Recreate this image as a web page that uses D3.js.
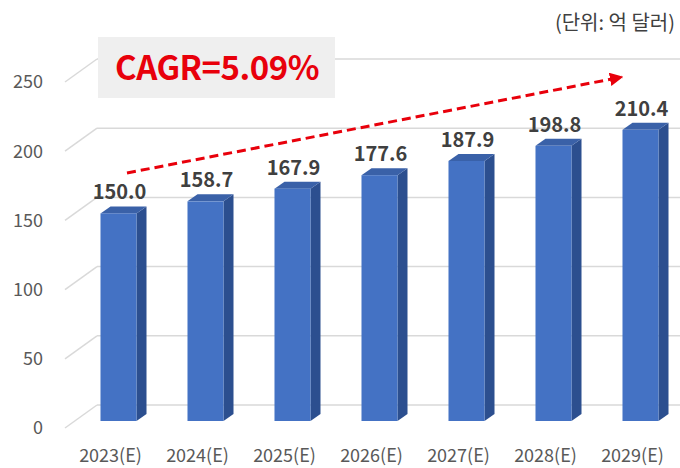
<!DOCTYPE html>
<html>
<head>
<meta charset="utf-8">
<script src="https://cdn.jsdelivr.net/npm/d3@7/dist/d3.min.js"></script>
<style>
  html, body { margin: 0; padding: 0; background: #fff; }
  #graph { width: 680px; height: 468px; }
  text { font-family: "Noto Sans CJK KR", "Noto Sans", sans-serif; }
</style>
</head>
<body>
<div id="graph"></div>
<script>
// chart data
const years = ["2023(E)", "2024(E)", "2025(E)", "2026(E)", "2027(E)", "2028(E)", "2029(E)"];
const values = [150.0, 158.7, 167.9, 177.6, 187.9, 198.8, 210.4];
const yTicks = [0, 50, 100, 150, 200, 250];
const cagrLabel = "CAGR=5.09%";
const unitLabel = "(단위: 억 달러)";

const W = 680, H = 468;
const depth = { dx: 32, dy: -23 };   // floor depth (front -> back wall)
const barDepth = { dx: 10, dy: -7 }; // bar side/top thickness

const svg = d3.select("#graph").append("svg")
    .attr("width", W)
    .attr("height", H);

// scales: front plane of the bars
const x = d3.scaleBand()
    .domain(years)
    .range([75, 684])
    .paddingInner(0.586)
    .paddingOuter(0.293);

const yBar = d3.scaleLinear().domain([0, 250]).range([421, 75]);
const yBack = d3.scaleLinear().domain([0, 250]).range([405, 59]);

// gridlines: diagonal on the side wall + horizontal on the back wall
const grid = svg.append("g").attr("class", "grid");
yTicks.forEach(function(t) {
    const yb = yBack(t);
    grid.append("line")
        .attr("x1", 65).attr("y1", yb - depth.dy)
        .attr("x2", 65 + depth.dx).attr("y2", yb)
        .attr("stroke", "#d9d9d9").attr("stroke-width", 1.5);
    grid.append("line")
        .attr("x1", 65 + depth.dx).attr("y1", yb)
        .attr("x2", W).attr("y2", yb)
        .attr("stroke", "#d9d9d9").attr("stroke-width", 1.5);
});

// y axis labels (front edge)
svg.append("g").selectAll("text")
    .data(yTicks)
    .enter().append("text")
    .attr("x", 43)
    .attr("y", function(d) { return yBack(d) - depth.dy; })
    .attr("dy", "0.35em")
    .attr("text-anchor", "end")
    .attr("font-size", 18)
    .attr("fill", "#595959")
    .text(function(d) { return d; });

// CAGR box
svg.append("rect")
    .attr("x", 98).attr("y", 37)
    .attr("width", 237).attr("height", 61)
    .attr("fill", "#efefef");
svg.append("text")
    .attr("x", 217).attr("y", 80)
    .attr("text-anchor", "middle")
    .attr("font-size", 33)
    .attr("font-weight", "bold")
    .attr("fill", "#e8000b")
    .attr("letter-spacing", -0.5)
    .text(cagrLabel);

// bars
const bars = svg.append("g").selectAll("g")
    .data(values)
    .enter().append("g");

bars.append("path") // side face
    .attr("d", function(d, i) {
        const x1 = x(years[i]) + x.bandwidth(), y0 = yBar(0), y1 = yBar(d);
        return "M" + x1 + "," + y0 + "L" + (x1 + barDepth.dx) + "," + (y0 + barDepth.dy) +
            "L" + (x1 + barDepth.dx) + "," + (y1 + barDepth.dy) + "L" + x1 + "," + y1 + "Z";
    })
    .attr("fill", "#2c4f8f");

bars.append("path") // top face
    .attr("d", function(d, i) {
        const x0 = x(years[i]), x1 = x0 + x.bandwidth(), y1 = yBar(d);
        return "M" + x0 + "," + y1 + "L" + (x0 + barDepth.dx) + "," + (y1 + barDepth.dy) +
            "L" + (x1 + barDepth.dx) + "," + (y1 + barDepth.dy) + "L" + x1 + "," + y1 + "Z";
    })
    .attr("fill", "#3a61a8");

bars.append("rect") // front face
    .attr("x", function(d, i) { return x(years[i]); })
    .attr("y", function(d) { return yBar(d); })
    .attr("width", x.bandwidth())
    .attr("height", function(d) { return yBar(0) - yBar(d); })
    .attr("fill", "#4472c4");

// value labels
bars.append("text")
    .attr("x", function(d, i) { return x(years[i]) + x.bandwidth() / 2 + 1; })
    .attr("y", function(d) { return yBar(d) - 14; })
    .attr("text-anchor", "middle")
    .attr("font-size", 20)
    .attr("font-weight", "bold")
    .attr("fill", "#404040")
    .text(function(d) { return d.toFixed(1); });

// x axis labels
svg.append("g").selectAll("text")
    .data(years)
    .enter().append("text")
    .attr("x", function(d) { return x(d) + x.bandwidth() / 2 - 8; })
    .attr("y", 462)
    .attr("text-anchor", "middle")
    .attr("font-size", 18)
    .attr("fill", "#595959")
    .text(function(d) { return d; });

// dashed trend arrow
const defs = svg.append("defs");
defs.append("marker")
    .attr("id", "arrow")
    .attr("viewBox", "0 0 10 10")
    .attr("refX", 9).attr("refY", 5)
    .attr("markerWidth", 4.5).attr("markerHeight", 4.5)
    .attr("orient", "auto")
    .append("path")
    .attr("d", "M0,0L10,5L0,10Z")
    .attr("fill", "#e8000b");

svg.append("line")
    .attr("x1", 127).attr("y1", 173)
    .attr("x2", 622).attr("y2", 77)
    .attr("stroke", "#e8000b")
    .attr("stroke-width", 3)
    .attr("stroke-dasharray", "9,5")
    .attr("marker-end", "url(#arrow)");

// unit label
svg.append("text")
    .attr("x", 675).attr("y", 30)
    .attr("text-anchor", "end")
    .attr("font-size", 20)
    .attr("fill", "#404040")
    .text(unitLabel);
</script>
</body>
</html>
